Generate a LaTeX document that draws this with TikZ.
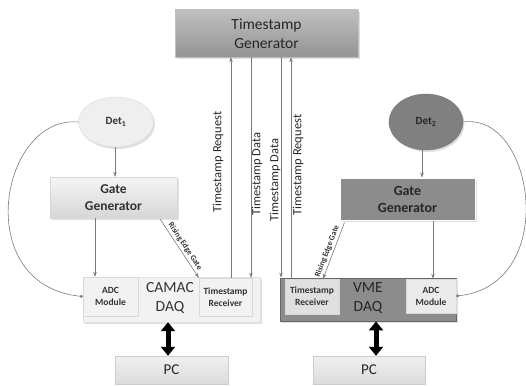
\documentclass[tikz,border=0pt]{standalone}
\usepackage{fontspec}
\setmainfont{Carlito}
\usetikzlibrary{arrows.meta,shapes.geometric,calc,shadows}
\definecolor{lgray}{HTML}{EFEFEF}
\definecolor{lnc}{HTML}{7A7A7A}
\tikzset{
  con/.style={draw=lnc, line width=0.6pt, -{Stealth[length=5pt,width=3.5pt]}},
  vlbl/.style={rotate=90, font=\fontsize{12.5}{13}\selectfont, text=black!85},
  relbl/.style={font=\bfseries\fontsize{8}{9}\selectfont, text=black!80, inner sep=2pt},
  thick2/.style={line width=5pt, {Triangle[width=14pt,length=9pt]}-{Triangle[width=14pt,length=9pt]}},
  shd/.style={drop shadow={opacity=0.25, shadow xshift=1.5pt, shadow yshift=-2pt}}
}
\begin{document}
\begin{tikzpicture}[x=1pt,y=-1pt]
\useasboundingbox (0,0) rectangle (526,385);
% timestamp generator
\node[draw=black!25, top color=black!25, bottom color=black!42, minimum width=183pt, minimum height=47pt, align=center,
      font=\fontsize{15.5}{19}\selectfont, text=black!85, shd] (tsg) at (266.5,33.5) {Timestamp\\Generator};
% detectors
\node[ellipse, draw=black!15, fill=lgray, minimum width=75pt, minimum height=50pt, inner sep=0pt, shd,
      font=\bfseries\fontsize{11}{12}\selectfont, text=black!80] (det1) at (116,122) {Det\textsubscript{1}};
\node[ellipse, draw=black!55, fill=black!50, minimum width=74pt, minimum height=56pt, inner sep=0pt, shd,
      font=\bfseries\fontsize{11}{12}\selectfont, text=black!85] (det2) at (426,122) {Det\textsubscript{2}};
% gate generators
\node[draw=black!15, top color=black!4, bottom color=black!16, minimum width=127pt, minimum height=41pt, align=center,
      font=\bfseries\fontsize{13.5}{17}\selectfont, text=black!80, shd] (gate1) at (113.5,197.5) {Gate\\Generator};
\node[draw=white, line width=1pt, fill=black!45, minimum width=135pt, minimum height=42pt, align=center,
      font=\bfseries\fontsize{14}{17}\selectfont, text=black!85, shd] (gate2) at (407.5,199) {Gate\\Generator};
% CAMAC DAQ
\node[draw=black!12, fill=black!5, minimum width=177pt, minimum height=45pt, shd] (camac) at (171.5,299.5) {};
\node[draw=black!15, fill=black!5, minimum width=55pt, minimum height=39pt, align=center,
      font=\bfseries\fontsize{9.5}{12}\selectfont, text=black!80] (adc1) at (110.5,296.5) {ADC\\Module};
\node[draw=black!15, fill=black!5, minimum width=53pt, minimum height=38pt, inner sep=0pt, align=center,
      font=\bfseries\fontsize{9.5}{12}\selectfont, text=black!80] (tsr1) at (225.5,297) {Timestamp\\Receiver};
\node[align=center, font=\fontsize{15.5}{19}\selectfont, text=black!80, inner sep=0pt] (camaclbl) at (170,298) {CAMAC\\DAQ};
% VME DAQ
\node[draw=black!60, fill=black!45, minimum width=176pt, minimum height=43pt, line width=0.8pt, shd] (vme) at (368,299.5) {};
\node[draw=black!15, fill=black!12, minimum width=54pt, minimum height=35pt, inner sep=0pt, align=center,
      font=\bfseries\fontsize{9.5}{12}\selectfont, text=black!80] (tsr2) at (312,296.5) {Timestamp\\Receiver};
\node[draw=black!15, fill=black!8, minimum width=50pt, minimum height=34pt, inner sep=0pt, align=center,
      font=\bfseries\fontsize{9.5}{12}\selectfont, text=black!80] (adc2) at (431,296) {ADC\\Module};
\node[align=center, font=\fontsize{15.5}{19}\selectfont, text=black!85, inner sep=0pt] (vmelbl) at (368,298) {VME\\DAQ};
% PCs
\node[draw=black!20, top color=black!6, bottom color=black!14, minimum width=113pt, minimum height=28pt,
      font=\fontsize{15}{18}\selectfont, text=black!85] (pc1) at (171.5,370) {PC};
\node[draw=black!20, top color=black!6, bottom color=black!14, minimum width=112pt, minimum height=28pt,
      font=\fontsize{15}{18}\selectfont, text=black!85] (pc2) at (369,370) {PC};
% helper coordinates
\coordinate (x1) at (231,0);
\coordinate (x2) at (251,0);
\coordinate (x3) at (281,0);
\coordinate (x4) at (291,0);
\coordinate (ax1) at (168,0);
\coordinate (ax2) at (376,0);
\coordinate (xg1) at (95,0);
\coordinate (xg2) at (433,0);
\coordinate (xd1) at (115,0);
\coordinate (xd2) at (422,0);
% timestamp lines
\draw[con] (tsr1.north -| x1) -- (tsg.south -| x1);
\draw[con] (tsg.south -| x2) -- (tsr1.north -| x2);
\draw[con] (tsg.south -| x3) -- (vme.north -| x3);
\draw[con] (tsr2.north -| x4) -- (tsg.south -| x4);
\node[vlbl] (l1) at (218,162) {Timestamp Request};
\node[vlbl] (l2) at (257,174) {Timestamp Data};
\node[vlbl] (l3) at (275,180) {Timestamp Data};
\node[vlbl] (l4) at (298,165) {Timestamp Request};
% detector to gate
\draw[con] (det1.south -| xd1) -- (gate1.north -| xd1);
\draw[con] (det2.south -| xd2) -- (gate2.north -| xd2);
% gate to adc
\draw[con] (gate1.south -| xg1) -- (adc1.north -| xg1);
\draw[con] (gate2.south -| xg2) -- (adc2.north -| xg2);
% rising edge gate
\draw[con] ($(gate1.south east)+(-17,1)$) -- (tsr1.north west) node[pos=0.52, sloped, above, relbl] {Rising Edge Gate};
\draw[con] ($(gate2.south west)+(5,2)$) -- ($(tsr2.north)+(11,0)$) node[pos=0.55, sloped, above, relbl] {Rising Edge Gate};
% detector curves
\draw[draw=lnc, line width=0.6pt, -{Circle[length=3pt]}] (det1.west) .. controls (0,115) and (-30,285) .. (adc1.west);
\draw[draw=lnc, line width=0.6pt, -{Circle[length=3pt]}] (det2.east) .. controls (535,112) and (560,285) .. (adc2.east);
% thick arrows
\draw[thick2] (camac.south -| ax1) -- (pc1.north -| ax1);
\draw[thick2] (vme.south -| ax2) -- (pc2.north -| ax2);
\end{tikzpicture}
\end{document}
